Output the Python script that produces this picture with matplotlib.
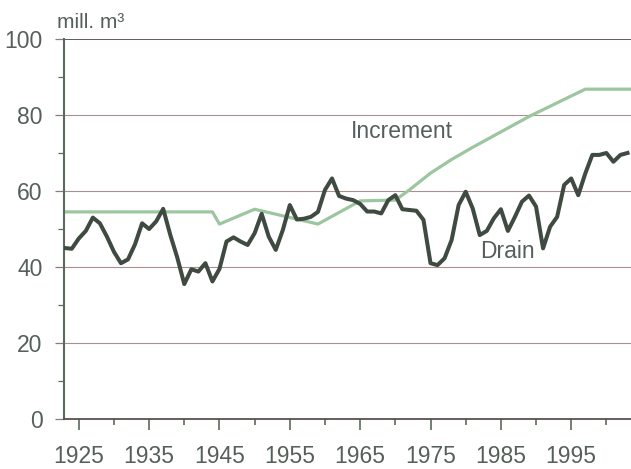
import numpy as np
import matplotlib
matplotlib.use("Agg")
import matplotlib.pyplot as plt

plt.rcParams['font.family'] = ['Liberation Sans', 'DejaVu Sans']

# drain, mill. m3, one value per year 1923-2003
drain_years = list(range(1923, 2004))
drain = [45.0, 44.8, 47.5, 49.5, 53.0, 51.5, 48.0, 44.0, 41.0, 42.0,
         46.0, 51.5, 50.0, 52.0, 55.3, 48.5, 42.5, 35.5, 39.4, 38.8,
         41.0, 36.2, 39.5, 46.7, 47.8, 46.7, 45.8, 48.9, 54.0, 48.0,
         44.5, 49.7, 56.3, 52.5, 52.7, 53.2, 54.5, 60.3, 63.3, 58.7,
         58.0, 57.6, 56.6, 54.6, 54.6, 54.1, 57.6, 58.9, 55.2, 55.0,
         54.8, 52.4, 41.0, 40.5, 42.3, 47.1, 56.3, 59.8, 55.4, 48.4,
         49.5, 52.8, 55.2, 49.5, 53.2, 57.2, 58.8, 55.9, 44.9, 50.6,
         53.2, 61.6, 63.3, 58.9, 64.6, 69.5, 69.5, 70.0, 67.7, 69.5,
         70.0]

# increment, read at the bends of the line
incr_years = [1923, 1944, 1945, 1950, 1959, 1965, 1970, 1972, 1975, 1978, 1981, 1989, 1997, 2003.5]
increment = [54.5, 54.5, 51.3, 55.2, 51.3, 57.4, 57.6, 60.3, 64.7, 68.3, 71.5, 79.6, 86.8, 86.8]

xticks = [1925, 1935, 1945, 1955, 1965, 1975, 1985, 1995]
xminor = [1930, 1940, 1950, 1960, 1970, 1980, 1990, 2000]
yticks = [0, 20, 40, 60, 80, 100]
yminor = [10, 30, 50, 70, 90]

txt = '#55605a'
drain_col = '#3f4a40'
incr_col = '#9cc6a0'

fig = plt.figure(figsize=(6.31, 4.69), dpi=100)
ax = fig.add_axes([64 / 631, 1 - 419 / 469, 1 - 64 / 631, (419 - 39) / 469])

for y in [20, 40, 60, 80]:
    ax.axhline(y, color='#a89090', lw=0.8, zorder=1)
ax.axhline(100, color='#5a4c4c', lw=1.3, zorder=1)

ax.plot(incr_years, increment, color=incr_col, lw=2.3, zorder=2, solid_joinstyle='round')
ax.plot(drain_years, drain, color=drain_col, lw=2.9, zorder=3, solid_joinstyle='round')

ax.set_xlim(1922.9, 2003.5)
ax.set_ylim(0, 100)
ax.set_xticks(xticks)
ax.set_xticks(xminor, minor=True)
ax.set_yticks(yticks)
ax.set_yticks(yminor, minor=True)

for s in ['top', 'right']:
    ax.spines[s].set_visible(False)
ax.spines['left'].set_color('#5a6a5a')
ax.spines['left'].set_linewidth(1.5)
ax.spines['bottom'].set_color('#5a5050')
ax.spines['bottom'].set_linewidth(1.3)

ax.tick_params(axis='y', which='major', length=6.5, width=0.9, color='#8a7a7a',
               pad=9, labelsize=16.5, labelcolor=txt)
ax.tick_params(axis='y', which='minor', length=4.3, width=0.9, color='#5a6a5a')
ax.tick_params(axis='x', which='major', length=8, width=1.2, color='#5a6a5a',
               pad=10.5, labelsize=16.5, labelcolor=txt)
ax.tick_params(axis='x', which='minor', length=4.3, width=1.2, color='#5a6a5a')

fig.text(57 / 631, 1 - 22 / 469, 'mill. m³', ha='left', va='center', fontsize=15, color=txt)
fig.text(402 / 631, 1 - 131 / 469, 'Increment', fontsize=16.5, color=txt, ha='center', va='center')
fig.text(507 / 631, 1 - 251 / 469, 'Drain', fontsize=16.5, color=txt, ha='center', va='center')

fig.savefig('out.png', dpi=100)
